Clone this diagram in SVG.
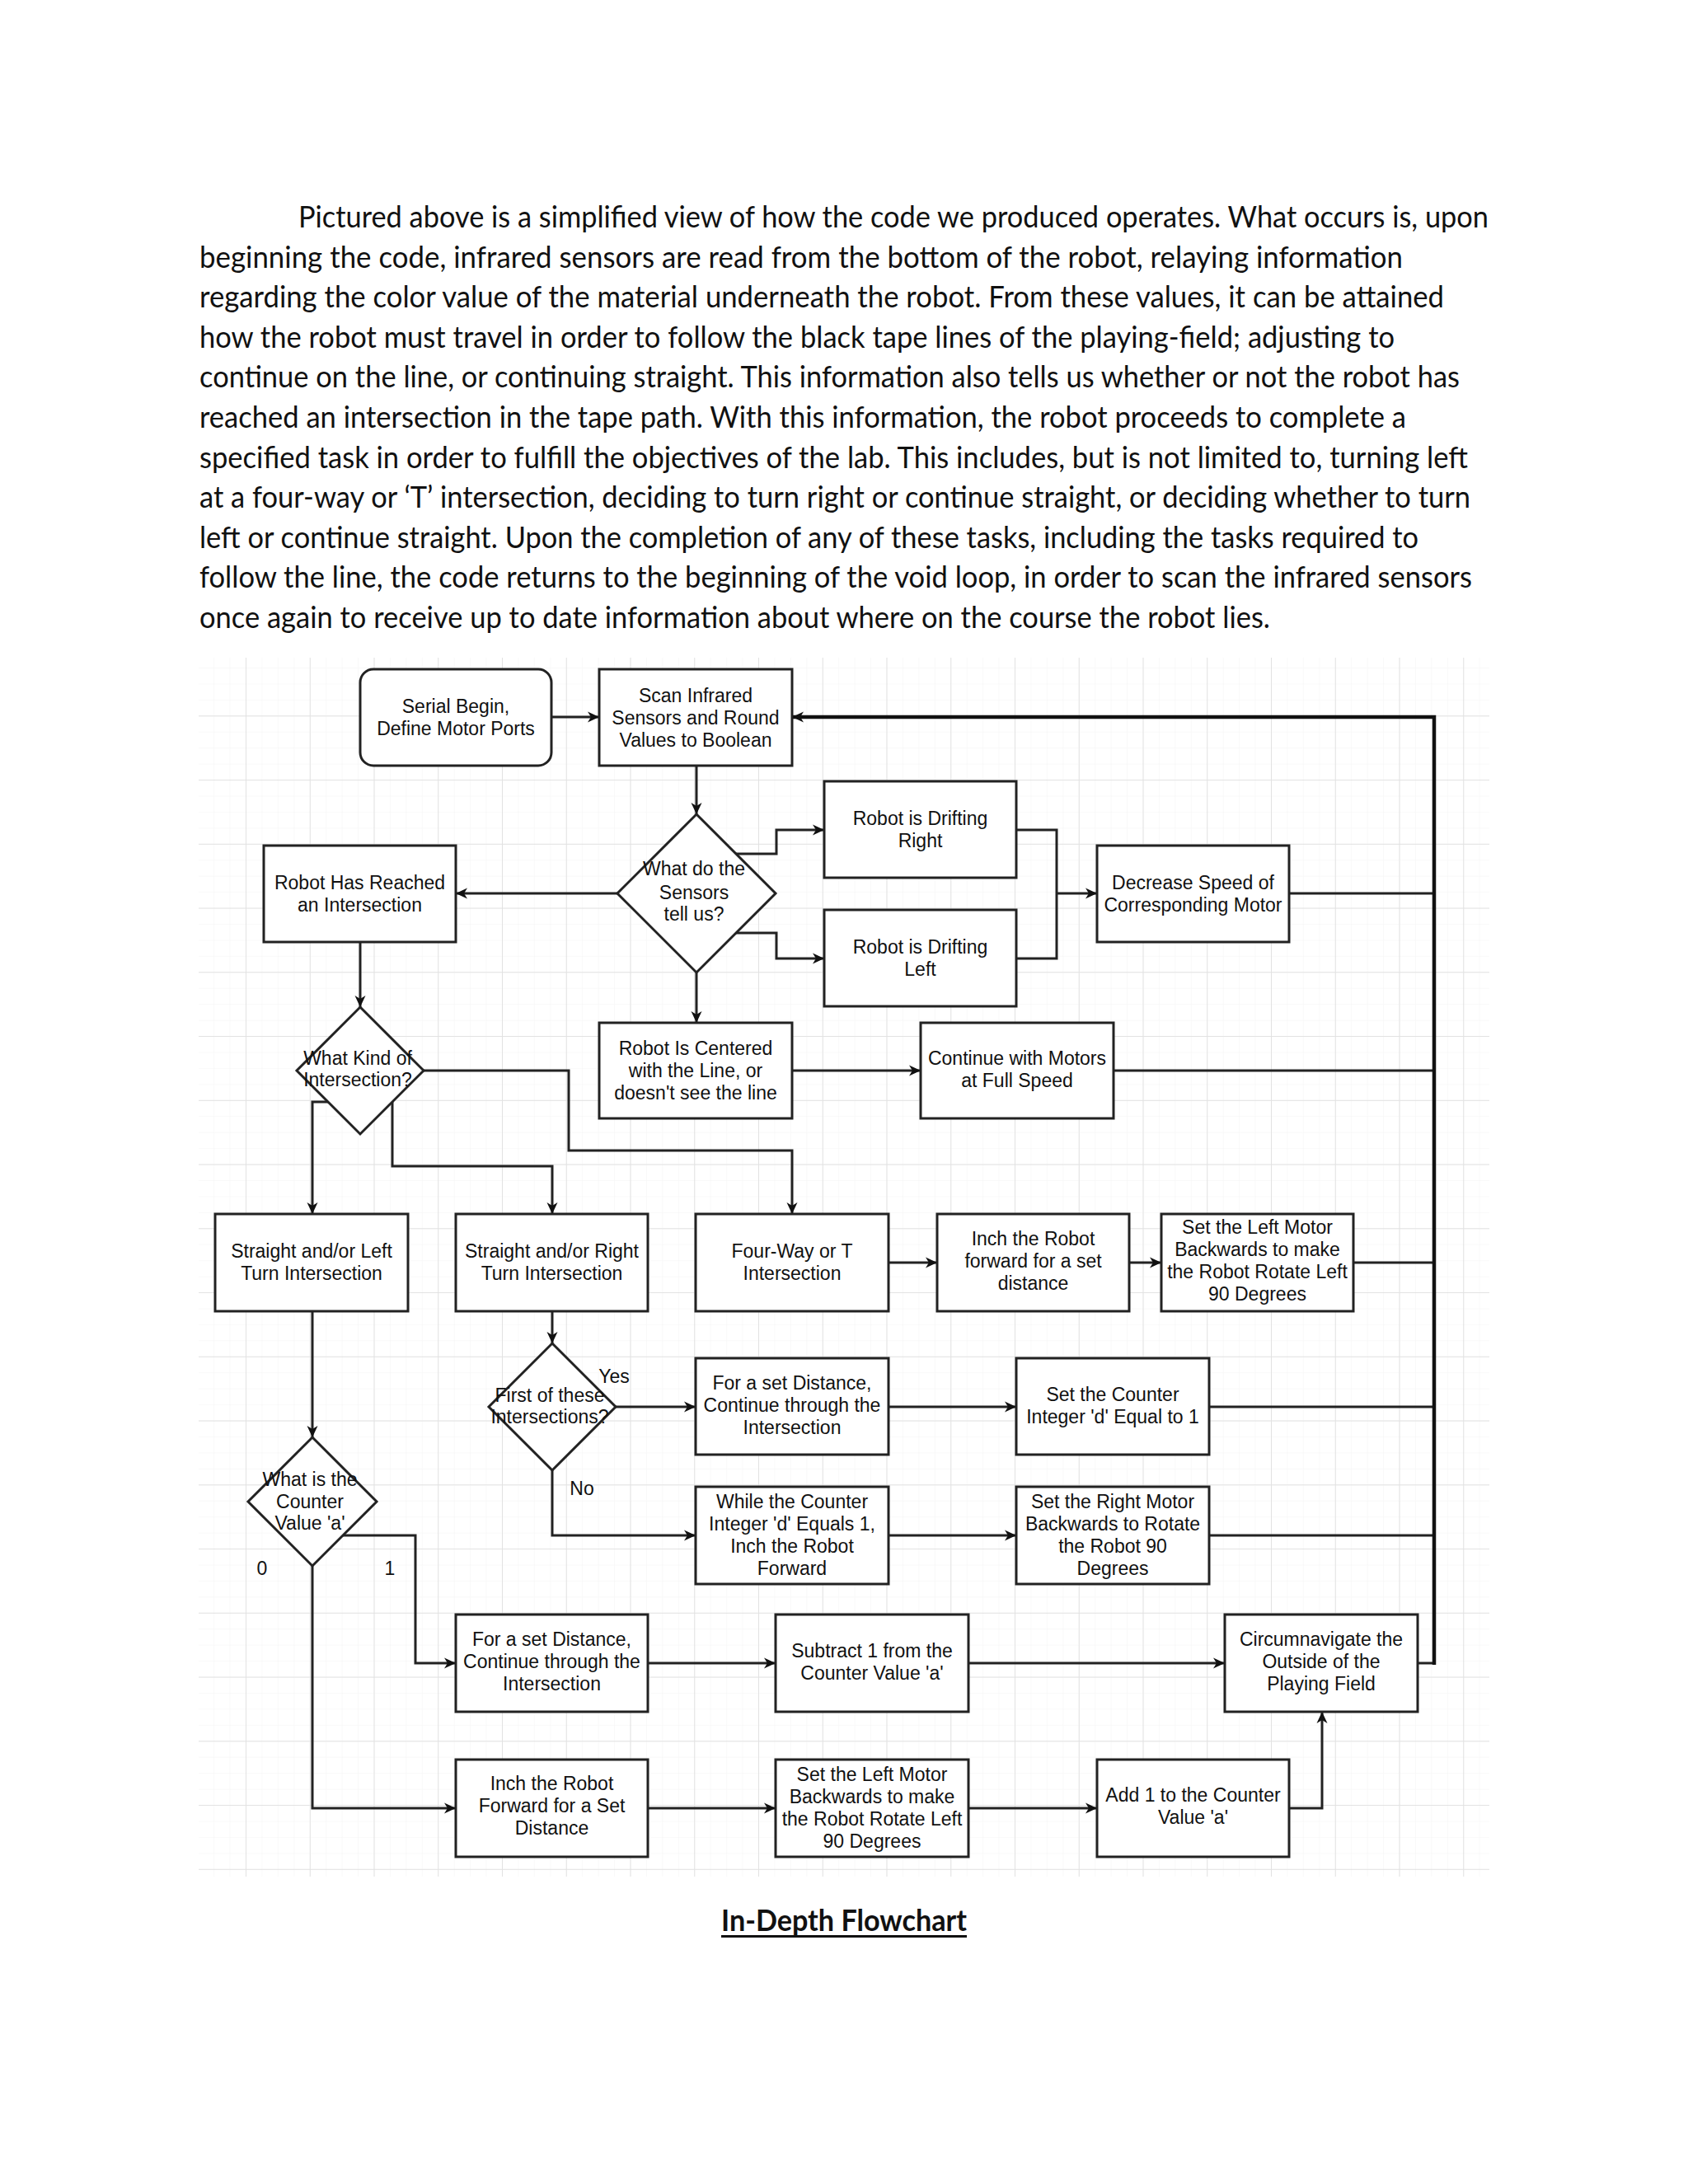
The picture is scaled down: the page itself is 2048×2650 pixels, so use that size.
<svg xmlns="http://www.w3.org/2000/svg" width="2048" height="2650" viewBox="0 0 2048 2650">
<style>
.para{font-family:Lato,"Liberation Sans",sans-serif;font-size:37px;fill:#111}
.title{font-family:Lato,"Liberation Sans",sans-serif;font-size:37px;font-weight:bold;fill:#111}
.box{fill:#fff;stroke:#222;stroke-width:3}
.lbl{font-family:"Liberation Sans",Arial,sans-serif;font-size:23px;fill:#111;text-anchor:middle}
.edge{fill:none;stroke:#222;stroke-width:3}
.back{fill:none;stroke:#111;stroke-width:4.5}
.minor{stroke:#f3f3f3;stroke-width:1}
.major{stroke:#e2e2e2;stroke-width:2}
</style>
<defs>
<marker id="arr" markerWidth="16" markerHeight="16" refX="14" refY="8" orient="auto" markerUnits="userSpaceOnUse">
<path d="M0,1.5 L14,8 L0,14.5 L4,8 z" fill="#111"/>
</marker>
<pattern id="minorGrid" x="298" y="868.3" width="19.4375" height="19.4375" patternUnits="userSpaceOnUse">
<path d="M0,0 H19.4375 M0,0 V19.4375" class="minor" fill="none"/>
</pattern>
<pattern id="majorGrid" x="298" y="868.3" width="77.75" height="77.75" patternUnits="userSpaceOnUse">
<path d="M0,0 H77.75 M0,0 V77.75" class="major" fill="none"/>
</pattern>
</defs>
<rect width="2048" height="2650" fill="#fff"/>

<g id="paragraph">
<text class="para" x="362" y="276" textLength="1444" lengthAdjust="spacingAndGlyphs">Pictured above is a simplified view of how the code we produced operates. What occurs is, upon</text>
<text class="para" x="242" y="324.6" textLength="1460" lengthAdjust="spacingAndGlyphs">beginning the code, infrared sensors are read from the bottom of the robot, relaying information</text>
<text class="para" x="242" y="373.2" textLength="1510" lengthAdjust="spacingAndGlyphs">regarding the color value of the material underneath the robot. From these values, it can be attained</text>
<text class="para" x="242" y="421.8" textLength="1450" lengthAdjust="spacingAndGlyphs">how the robot must travel in order to follow the black tape lines of the playing-field; adjusting to</text>
<text class="para" x="242" y="470.4" textLength="1529" lengthAdjust="spacingAndGlyphs">continue on the line, or continuing straight. This information also tells us whether or not the robot has</text>
<text class="para" x="242" y="519" textLength="1464" lengthAdjust="spacingAndGlyphs">reached an intersection in the tape path. With this information, the robot proceeds to complete a</text>
<text class="para" x="242" y="567.6" textLength="1539" lengthAdjust="spacingAndGlyphs">specified task in order to fulfill the objectives of the lab. This includes, but is not limited to, turning left</text>
<text class="para" x="242" y="616.2" textLength="1542" lengthAdjust="spacingAndGlyphs">at a four-way or ‘T’ intersection, deciding to turn right or continue straight, or deciding whether to turn</text>
<text class="para" x="242" y="664.8" textLength="1479" lengthAdjust="spacingAndGlyphs">left or continue straight. Upon the completion of any of these tasks, including the tasks required to</text>
<text class="para" x="242" y="713.4" textLength="1544" lengthAdjust="spacingAndGlyphs">follow the line, the code returns to the beginning of the void loop, in order to scan the infrared sensors</text>
<text class="para" x="242" y="762" textLength="1299" lengthAdjust="spacingAndGlyphs">once again to receive up to date information about where on the course the robot lies.</text>
</g>

<g id="grid">
<rect x="241" y="798" width="1566" height="1479" fill="url(#minorGrid)"/>
<rect x="241" y="798" width="1566" height="1479" fill="url(#majorGrid)"/>
</g>

<g id="connectors">
<path class="edge" d="M669,870 H727" marker-end="url(#arr)"/>
<path class="edge" d="M845,929 V988" marker-end="url(#arr)"/>
<path class="edge" d="M749,1084 H553" marker-end="url(#arr)"/>
<path class="edge" d="M893,1036 H942 V1007 H1000" marker-end="url(#arr)"/>
<path class="edge" d="M893,1132 H942 V1163 H1000" marker-end="url(#arr)"/>
<path class="edge" d="M1233,1007 H1282 V1163 H1233"/>
<path class="edge" d="M1282,1084 H1331" marker-end="url(#arr)"/>
<path class="edge" d="M845,1180 V1241" marker-end="url(#arr)"/>
<path class="edge" d="M437,1143 V1222" marker-end="url(#arr)"/>
<path class="edge" d="M514,1299 H690 V1396 H961 V1473" marker-end="url(#arr)"/>
<path class="edge" d="M398,1337 H379 V1473" marker-end="url(#arr)"/>
<path class="edge" d="M476,1337 V1415 H670 V1473" marker-end="url(#arr)"/>
<path class="edge" d="M961,1299 H1117" marker-end="url(#arr)"/>
<path class="edge" d="M1351,1299 H1740"/>
<path class="edge" d="M1564,1084 H1740"/>
<path class="edge" d="M1078,1532 H1137" marker-end="url(#arr)"/>
<path class="edge" d="M1370,1532 H1409" marker-end="url(#arr)"/>
<path class="edge" d="M1642,1532 H1740"/>
<path class="edge" d="M670,1591 V1630" marker-end="url(#arr)"/>
<path class="edge" d="M747,1707 H844" marker-end="url(#arr)"/>
<path class="edge" d="M1078,1707 H1233" marker-end="url(#arr)"/>
<path class="edge" d="M1467,1707 H1740"/>
<path class="edge" d="M670,1784 V1863 H844" marker-end="url(#arr)"/>
<path class="edge" d="M1078,1863 H1233" marker-end="url(#arr)"/>
<path class="edge" d="M1467,1863 H1740"/>
<path class="edge" d="M379,1591 V1744" marker-end="url(#arr)"/>
<path class="edge" d="M416,1863 H504 V2018 H553" marker-end="url(#arr)"/>
<path class="edge" d="M379,1900 V2194 H553" marker-end="url(#arr)"/>
<path class="edge" d="M786,2018 H941" marker-end="url(#arr)"/>
<path class="edge" d="M1175,2018 H1486" marker-end="url(#arr)"/>
<path class="edge" d="M786,2194 H941" marker-end="url(#arr)"/>
<path class="edge" d="M1175,2194 H1331" marker-end="url(#arr)"/>
<path class="edge" d="M1564,2194 H1604 V2077" marker-end="url(#arr)"/>
<path class="edge" d="M1720,2018 H1740"/>
<path class="back" d="M1740,2020 V870 H961" marker-end="url(#arr)"/>
<text class="lbl" x="745" y="1678">Yes</text>
<text class="lbl" x="706" y="1814">No</text>
<text class="lbl" x="318" y="1911">0</text>
<text class="lbl" x="473" y="1911">1</text>
</g>

<g id="serial">
<rect class="box" x="437" y="812" width="232" height="117" rx="16" ry="16"/>
<text class="lbl"><tspan x="553" y="865">Serial Begin,</tspan><tspan x="553" y="892">Define Motor Ports</tspan></text>
</g>
<g id="scan">
<rect class="box" x="727" y="812" width="234" height="117"/>
<text class="lbl"><tspan x="844" y="851.5">Scan Infrared</tspan><tspan x="844" y="878.5">Sensors and Round</tspan><tspan x="844" y="905.5">Values to Boolean</tspan></text>
</g>
<g id="sensors-decision">
<polygon class="box" points="845,988 941,1084 845,1180 749,1084"/>
<text class="lbl"><tspan x="842" y="1062">What do the</tspan><tspan x="842" y="1091">Sensors</tspan><tspan x="842" y="1117">tell us?</tspan></text>
</g>
<g id="reached">
<rect class="box" x="320" y="1026" width="233" height="117"/>
<text class="lbl"><tspan x="436.5" y="1079">Robot Has Reached</tspan><tspan x="436.5" y="1106">an Intersection</tspan></text>
</g>
<g id="drift-right">
<rect class="box" x="1000" y="948" width="233" height="117"/>
<text class="lbl"><tspan x="1116.5" y="1001">Robot is Drifting</tspan><tspan x="1116.5" y="1028">Right</tspan></text>
</g>
<g id="drift-left">
<rect class="box" x="1000" y="1104" width="233" height="117"/>
<text class="lbl"><tspan x="1116.5" y="1157">Robot is Drifting</tspan><tspan x="1116.5" y="1184">Left</tspan></text>
</g>
<g id="decrease">
<rect class="box" x="1331" y="1026" width="233" height="117"/>
<text class="lbl"><tspan x="1447.5" y="1079">Decrease Speed of</tspan><tspan x="1447.5" y="1106">Corresponding Motor</tspan></text>
</g>
<g id="kind-decision">
<polygon class="box" points="437,1222 514,1299 437,1376 360,1299"/>
<text class="lbl"><tspan x="434" y="1292">What Kind of</tspan><tspan x="434" y="1318">Intersection?</tspan></text>
</g>
<g id="centered">
<rect class="box" x="727" y="1241" width="234" height="116"/>
<text class="lbl"><tspan x="844" y="1280">Robot Is Centered</tspan><tspan x="844" y="1307">with the Line, or</tspan><tspan x="844" y="1334">doesn't see the line</tspan></text>
</g>
<g id="continue">
<rect class="box" x="1117" y="1241" width="234" height="116"/>
<text class="lbl"><tspan x="1234" y="1292">Continue with Motors</tspan><tspan x="1234" y="1319">at Full Speed</tspan></text>
</g>
<g id="straight-left">
<rect class="box" x="261" y="1473" width="234" height="118"/>
<text class="lbl"><tspan x="378" y="1525.5">Straight and/or Left</tspan><tspan x="378" y="1552.5">Turn Intersection</tspan></text>
</g>
<g id="straight-right">
<rect class="box" x="553" y="1473" width="233" height="118"/>
<text class="lbl"><tspan x="669.5" y="1525.5">Straight and/or Right</tspan><tspan x="669.5" y="1552.5">Turn Intersection</tspan></text>
</g>
<g id="four-way">
<rect class="box" x="844" y="1473" width="234" height="118"/>
<text class="lbl"><tspan x="961" y="1525.5">Four-Way or T</tspan><tspan x="961" y="1552.5">Intersection</tspan></text>
</g>
<g id="inch1">
<rect class="box" x="1137" y="1473" width="233" height="118"/>
<text class="lbl"><tspan x="1253.5" y="1511">Inch the Robot</tspan><tspan x="1253.5" y="1538">forward for a set</tspan><tspan x="1253.5" y="1565">distance</tspan></text>
</g>
<g id="set-left1">
<rect class="box" x="1409" y="1473" width="233" height="118"/>
<text class="lbl"><tspan x="1525.5" y="1497">Set the Left Motor</tspan><tspan x="1525.5" y="1524">Backwards to make</tspan><tspan x="1525.5" y="1551">the Robot Rotate Left</tspan><tspan x="1525.5" y="1578">90 Degrees</tspan></text>
</g>
<g id="first-decision">
<polygon class="box" points="670,1630 747,1707 670,1784 593,1707"/>
<text class="lbl"><tspan x="667" y="1701">First of these</tspan><tspan x="667" y="1727">Intersections?</tspan></text>
</g>
<g id="for-set1">
<rect class="box" x="844" y="1648" width="234" height="117"/>
<text class="lbl"><tspan x="961" y="1686">For a set Distance,</tspan><tspan x="961" y="1713">Continue through the</tspan><tspan x="961" y="1740">Intersection</tspan></text>
</g>
<g id="set-counter">
<rect class="box" x="1233" y="1648" width="234" height="117"/>
<text class="lbl"><tspan x="1350" y="1700">Set the Counter</tspan><tspan x="1350" y="1727">Integer 'd' Equal to 1</tspan></text>
</g>
<g id="counter-decision">
<polygon class="box" points="379,1744 457,1822 379,1900 301,1822"/>
<text class="lbl"><tspan x="376" y="1803">What is the</tspan><tspan x="376" y="1830">Counter</tspan><tspan x="376" y="1856">Value 'a'</tspan></text>
</g>
<g id="while">
<rect class="box" x="844" y="1804" width="234" height="118"/>
<text class="lbl"><tspan x="961" y="1830">While the Counter</tspan><tspan x="961" y="1857">Integer 'd' Equals 1,</tspan><tspan x="961" y="1884">Inch the Robot</tspan><tspan x="961" y="1911">Forward</tspan></text>
</g>
<g id="set-right">
<rect class="box" x="1233" y="1804" width="234" height="118"/>
<text class="lbl"><tspan x="1350" y="1830">Set the Right Motor</tspan><tspan x="1350" y="1857">Backwards to Rotate</tspan><tspan x="1350" y="1884">the Robot 90</tspan><tspan x="1350" y="1911">Degrees</tspan></text>
</g>
<g id="for-set2">
<rect class="box" x="553" y="1959" width="233" height="118"/>
<text class="lbl"><tspan x="669.5" y="1997">For a set Distance,</tspan><tspan x="669.5" y="2024">Continue through the</tspan><tspan x="669.5" y="2051">Intersection</tspan></text>
</g>
<g id="subtract">
<rect class="box" x="941" y="1959" width="234" height="118"/>
<text class="lbl"><tspan x="1058" y="2011">Subtract 1 from the</tspan><tspan x="1058" y="2038">Counter Value 'a'</tspan></text>
</g>
<g id="circumnavigate">
<rect class="box" x="1486" y="1959" width="234" height="118"/>
<text class="lbl"><tspan x="1603" y="1997">Circumnavigate the</tspan><tspan x="1603" y="2024">Outside of the</tspan><tspan x="1603" y="2051">Playing Field</tspan></text>
</g>
<g id="inch2">
<rect class="box" x="553" y="2135" width="233" height="118"/>
<text class="lbl"><tspan x="669.5" y="2172">Inch the Robot</tspan><tspan x="669.5" y="2199">Forward for a Set</tspan><tspan x="669.5" y="2226">Distance</tspan></text>
</g>
<g id="set-left2">
<rect class="box" x="941" y="2135" width="234" height="118"/>
<text class="lbl"><tspan x="1058" y="2161">Set the Left Motor</tspan><tspan x="1058" y="2188">Backwards to make</tspan><tspan x="1058" y="2215">the Robot Rotate Left</tspan><tspan x="1058" y="2242">90 Degrees</tspan></text>
</g>
<g id="add1">
<rect class="box" x="1331" y="2135" width="233" height="118"/>
<text class="lbl"><tspan x="1447.5" y="2186">Add 1 to the Counter</tspan><tspan x="1447.5" y="2213">Value 'a'</tspan></text>
</g>

<g id="caption">
<text class="title" x="875" y="2343" textLength="298" lengthAdjust="spacingAndGlyphs">In-Depth Flowchart</text>
<rect x="875" y="2348" width="298" height="3" fill="#111"/>
</g>
</svg>
